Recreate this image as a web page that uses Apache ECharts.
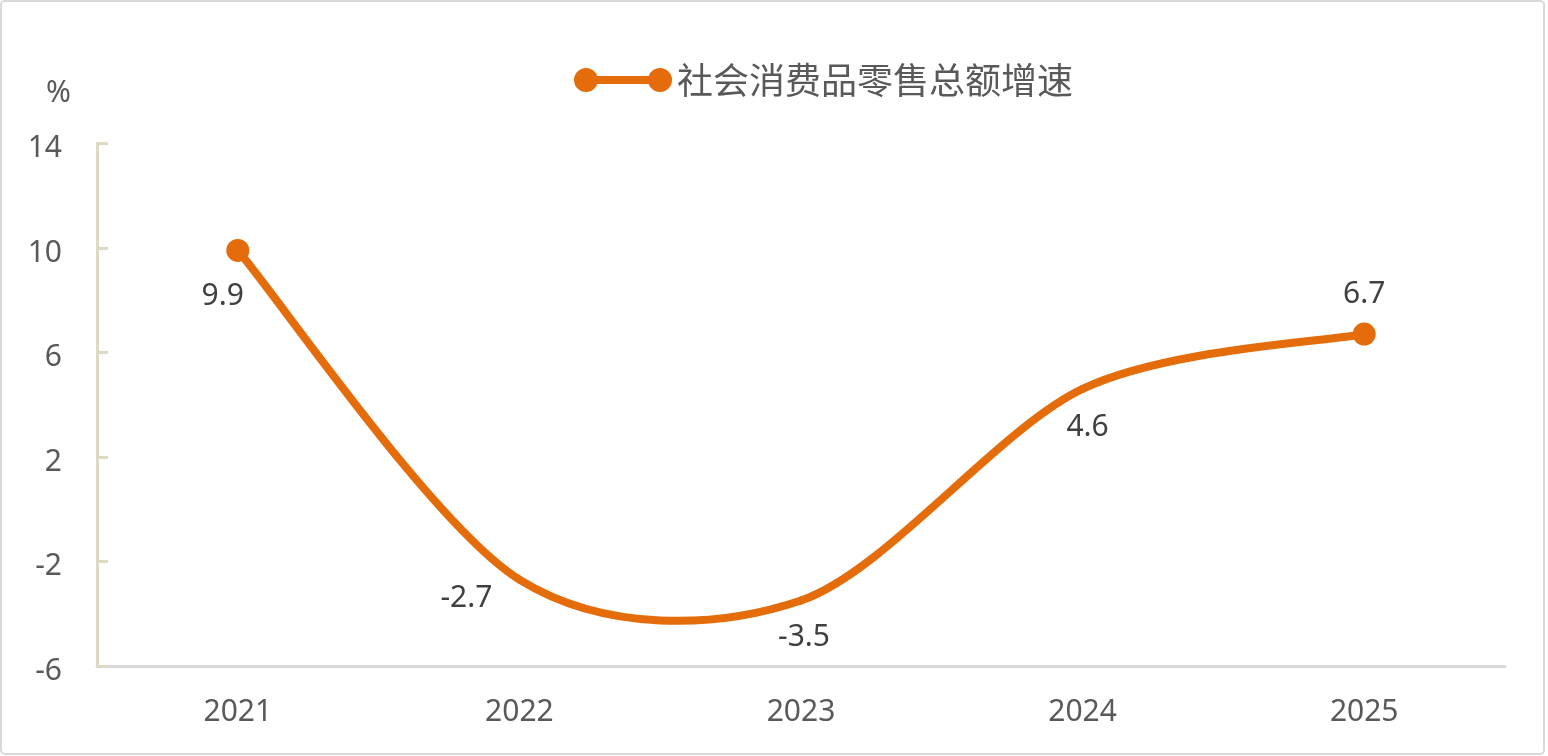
<!DOCTYPE html>
<html>
<head>
<meta charset="utf-8">
<script src="https://cdn.jsdelivr.net/npm/echarts@6/dist/echarts.min.js"></script>
<style>
  html, body { margin: 0; padding: 0; background: #fff; }
  #chart { position: absolute; left: 0; top: 0; width: 1548px; height: 756px; }
  #frame { position: absolute; left: 0; top: 0; width: 1541px; height: 751px;
           border: 2px solid #d9d9d9; border-radius: 5px; pointer-events: none; }
</style>
</head>
<body>
<div id="chart"></div>
<div id="frame"></div>
<script>
// ---- data ----
const categories = ['2021', '2022', '2023', '2024', '2025'];
const seriesName = '社会消费品零售总额增速';
const growthValues = [9.9, -2.7, -3.5, 4.6, 6.7];
const yTicks = { min: -6, max: 14, interval: 4 };
const unitLabel = '%';

// ---- styling ----
const ORANGE = '#E46C0A';
const TENSION = 0.15; // Excel-like smoothing (Catmull-Rom style)
const labelPlacement = [
  { position: 'bottom', offset: [-15, 15] },
  { position: 'bottom', offset: [-53, -1] },
  { position: 'bottom', offset: [3, 17] },
  { position: 'bottom', offset: [5, 19] },
  { position: 'top', offset: [0, -8] }
];

const chart = echarts.init(document.getElementById('chart'), null, { renderer: 'canvas' });

const seriesData = growthValues.map((v, i) => ({
  value: v,
  label: labelPlacement[i]
}));

const legendIcon = 'path://M0,12a12,12 0 1,0 24,0a12,12 0 1,0 -24,0Z' +
  'M74,12a12,12 0 1,0 24,0a12,12 0 1,0 -24,0Z' +
  'M12,8v8h74v-8Z';

function renderSmoothSegment(params, api) {
  const i = params.dataIndex;
  const n = growthValues.length;
  if (i >= n - 1) return null;
  const pt = (k) => {
    const kk = Math.max(0, Math.min(n - 1, k));
    return api.coord([kk, growthValues[kk]]);
  };
  const p0 = pt(i - 1), p1 = pt(i), p2 = pt(i + 1), p3 = pt(i + 2);
  const c1 = [p1[0] + TENSION * (p2[0] - p0[0]), p1[1] + TENSION * (p2[1] - p0[1])];
  const c2 = [p2[0] - TENSION * (p3[0] - p1[0]), p2[1] - TENSION * (p3[1] - p1[1])];
  return {
    type: 'bezierCurve',
    shape: {
      x1: p1[0], y1: p1[1],
      cpx1: c1[0], cpy1: c1[1],
      cpx2: c2[0], cpy2: c2[1],
      x2: p2[0], y2: p2[1]
    },
    style: { stroke: ORANGE, lineWidth: 8, fill: 'none', lineCap: 'round' }
  };
}

chart.setOption({
  animation: false,
  backgroundColor: '#ffffff',
  textStyle: { fontFamily: 'Noto Sans, sans-serif' },
  grid: { left: 97, right: 43, top: 143.3, bottom: 90.2, containLabel: false },
  legend: {
    data: [{ name: seriesName, icon: legendIcon, itemStyle: { color: ORANGE, borderWidth: 0 } }],
    left: 574,
    top: 62,
    padding: 0,
    itemWidth: 98,
    itemHeight: 24,
    textStyle: {
      fontFamily: 'Noto Sans CJK SC',
      fontSize: 36,
      color: '#595959'
    }
  },
  xAxis: {
    type: 'category',
    data: categories,
    boundaryGap: true,
    axisLine: { show: true, onZero: false, lineStyle: { color: '#d9d9d9', width: 3 } },
    axisTick: { show: false },
    axisLabel: { color: '#595959', fontSize: 30, margin: 32, fontFamily: 'Noto Sans' },
    splitLine: { show: false }
  },
  yAxis: {
    type: 'value',
    min: yTicks.min,
    max: yTicks.max,
    interval: yTicks.interval,
    name: unitLabel,
    nameLocation: 'end',
    nameGap: 35,
    nameTextStyle: { color: '#595959', fontSize: 30, align: 'right', padding: [0, 26, 0, 0], fontFamily: 'Noto Sans' },
    axisLine: { show: true, lineStyle: { color: '#ddd9c3', width: 3 } },
    axisTick: { show: true, inside: true, length: 11, lineStyle: { color: '#ddd9c3', width: 3 } },
    axisLabel: { color: '#595959', fontSize: 30, margin: 35, verticalAlign: 'top', lineHeight: 11, fontFamily: 'Noto Sans' },
    splitLine: { show: false }
  },
  series: [{
    name: seriesName,
    type: 'line',
    data: seriesData,
    z: 3,
    symbol: 'circle',
    symbolSize: function (val, params) {
      return (params.dataIndex === 0 || params.dataIndex === growthValues.length - 1) ? 23 : 0;
    },
    showSymbol: true,
    itemStyle: { color: ORANGE },
    lineStyle: { color: ORANGE, width: 0 },
    label: {
      show: true,
      color: '#404040',
      fontSize: 30,
      fontFamily: 'Noto Sans'
    }
  }, {
    name: seriesName,
    type: 'custom',
    z: 2,
    silent: true,
    itemStyle: { color: ORANGE },
    data: growthValues.map((v, i) => [i, v]),
    renderItem: renderSmoothSegment
  }]
});
</script>
</body>
</html>
